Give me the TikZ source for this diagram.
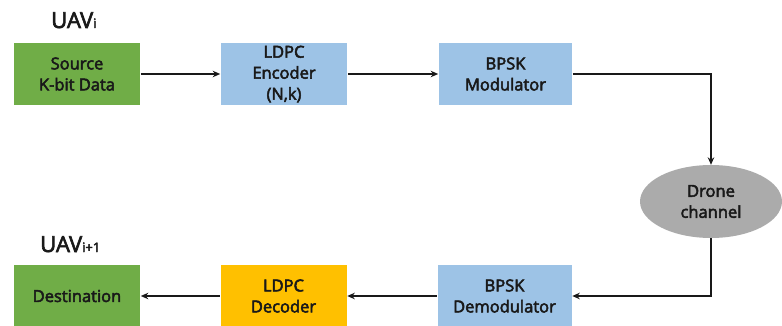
\documentclass[tikz,border=0pt]{standalone}
\usepackage{fontspec}
\setmainfont{Open Sans}[FakeBold=3]
\usetikzlibrary{shapes.geometric,arrows.meta}
\definecolor{boxgreen}{HTML}{70AD47}
\definecolor{boxblue}{HTML}{9DC3E6}
\definecolor{boxyellow}{HTML}{FFC000}
\definecolor{chgrey}{HTML}{ABABAB}
\begin{document}
\begin{tikzpicture}[x=1pt,y=-1pt,
  blk/.style={rectangle,draw=white,line width=0.6pt,minimum width=#1,minimum height=63pt,inner sep=0pt,align=center,font=\fontsize{16.5}{21}\selectfont,text=black!90},
  blk/.default=127pt,
  conn/.style={draw=black!90,line width=1.8pt,-{Stealth[length=7.5pt,width=6.5pt]}},
  lbl/.style={font=\fontsize{22}{26}\selectfont,text=black!90,inner sep=0pt}]
\useasboundingbox (0,0) rectangle (782,326);
\node[blk=127pt,fill=boxgreen] (src) at (77,74) {Source\\K-bit Data};
\node[blk=127pt,fill=boxblue] (enc) at (284,74) {LDPC\\Encoder\\(N,k)};
\node[blk=134pt,fill=boxblue] (mod) at (505.5,74) {BPSK\\Modulator};
\node[ellipse,fill=chgrey,minimum width=142pt,minimum height=73pt,inner sep=0pt,align=center,font=\fontsize{16.5}{21}\selectfont,text=black!90] (ch) at (711,201.5) {Drone\\channel};
\node[blk=127pt,fill=boxgreen,minimum height=64pt] (dst) at (77,296) {Destination};
\node[blk=127pt,fill=boxyellow,minimum height=64pt] (dec) at (283.5,296) {LDPC\\Decoder};
\node[blk=135pt,fill=boxblue,minimum height=64pt] (dem) at (504.5,296) {BPSK\\Demodulator};
\node[lbl,anchor=base west] (u1) at (51,28) {UAV{\fontsize{13}{15}\selectfont i}};
\node[lbl,anchor=base west] (u2) at (40,252) {UAV{\fontsize{13}{15}\selectfont i+1}};
\draw[conn] (src.east) -- (enc.west);
\draw[conn] (enc.east) -- (mod.west);
\draw[conn] (mod.east) -| (ch.north);
\draw[conn] (ch.south) |- (dem.east);
\draw[conn] (dem.west) -- (dec.east);
\draw[conn] (dec.west) -- (dst.east);
\end{tikzpicture}
\end{document}
